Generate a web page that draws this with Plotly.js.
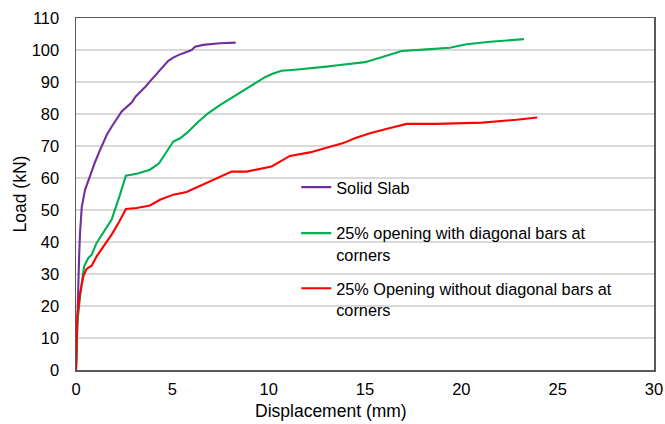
<!DOCTYPE html>
<html>
<head>
<meta charset="utf-8">
<script src="https://cdn.plot.ly/plotly-3.0.1.min.js"></script>
<style>
html,body{margin:0;padding:0;background:#fff;}
#chart{width:665px;height:424px;}
</style>
</head>
<body>
<div id="chart"></div>
<script>
const seriesNames = [
  "Solid Slab",
  "25% opening with diagonal bars at<br>corners",
  "25% Opening without diagonal bars at<br>corners"
];
const seriesColors = ["#7030a0", "#00b050", "#ff0000"];

const solidDisp = [0, 0.03, 0.05, 0.1, 0.16, 0.21, 0.3, 0.47, 0.73, 0.99, 1.25, 1.6, 1.85, 2.1, 2.37, 2.65, 2.89, 3.1, 3.32, 3.6, 3.84, 4.1, 4.36, 4.6, 4.79, 5.05, 5.31, 5.7, 6.0, 6.18, 6.6, 7.47, 8.29];
const solidLoad = [0, 8, 15, 25, 35, 43, 51, 56.3, 61, 65, 68.8, 73.5, 76, 78.3, 80.8, 82.3, 83.6, 85.5, 86.7, 88.5, 90.2, 92, 93.8, 95.5, 96.6, 97.6, 98.4, 99.3, 100, 101, 101.6, 102.1, 102.3];

const diagDisp = [0, 0.04, 0.07, 0.21, 0.3, 0.42, 0.64, 0.81, 1.07, 1.42, 1.85, 2.25, 2.59, 3.15, 3.84, 4.31, 4.7, 5.05, 5.4, 5.74, 6.35, 6.87, 7.47, 8.16, 8.86, 9.3, 9.81, 10.2, 10.67, 11.5, 12.31, 13.0, 13.7, 15.0, 15.86, 16.9, 18.2, 19.4, 20.27, 21.5, 23.25];
const diagLoad = [0, 8, 14.7, 23, 27.2, 32.4, 35, 36, 39.7, 42.8, 47, 54.2, 60.7, 61.3, 62.6, 64.6, 68, 71.4, 72.4, 74, 77.6, 80.3, 82.8, 85.4, 88, 89.7, 91.5, 92.6, 93.5, 93.9, 94.3, 94.8, 95.3, 96.2, 97.7, 99.7, 100.2, 100.7, 101.8, 102.6, 103.4];

const noDiagDisp = [0, 0.03, 0.07, 0.21, 0.38, 0.55, 0.81, 1.07, 1.42, 1.85, 2.25, 2.59, 3.15, 3.84, 4.36, 5.05, 5.74, 6.26, 6.78, 7.47, 8.08, 8.86, 9.55, 10.15, 10.59, 11.1, 12.14, 13.0, 13.87, 14.5, 15.26, 16.3, 17.16, 18.7, 21.1, 22.87, 23.94];
const noDiagLoad = [0, 10.5, 16.8, 24, 29.3, 31.6, 32.6, 35.5, 38.6, 42.3, 46.4, 50.3, 50.6, 51.4, 53.2, 54.8, 55.6, 57, 58.4, 60.5, 62, 62, 62.8, 63.6, 65.1, 66.9, 68, 69.5, 70.9, 72.5, 74, 75.6, 76.9, 76.9, 77.3, 78.2, 78.9];

const xTickVals = [0, 5, 10, 15, 20, 25, 30];
const yTickVals = [0, 10, 20, 30, 40, 50, 60, 70, 80, 90, 100, 110];
const xTitle = "Displacement (mm)";
const yTitle = "Load (kN)";

const xs = [solidDisp, diagDisp, noDiagDisp];
const ys = [solidLoad, diagLoad, noDiagLoad];
const legendIds = ["legend", "legend2", "legend3"];

const traces = seriesNames.map((n, i) => ({
  x: xs[i], y: ys[i], name: n, type: "scatter", mode: "lines",
  line: {color: seriesColors[i], width: 2.1},
  legend: legendIds[i]
}));

const fam = "Liberation Sans, Arial, sans-serif";
const tickFont = {family: fam, size: 16.5, color: "#000"};
const titleFont = {family: fam, size: 17.5, color: "#000"};
const legFont = {family: fam, size: 16.3, color: "#000"};

function leg(y) {
  return {
    x: 0.381, y: y, xanchor: "left", yanchor: "top",
    bgcolor: "rgba(0,0,0,0)", borderwidth: 0,
    font: legFont, valign: "top", itemwidth: 30
  };
}

const layout = {
  width: 665, height: 424,
  margin: {l: 76, r: 11, t: 18, b: 54},
  paper_bgcolor: "#fff", plot_bgcolor: "#fff",
  font: tickFont,
  showlegend: true,
  legend: leg(0.568),
  legend2: leg(0.4375),
  legend3: leg(0.281),
  xaxis: {
    range: [0, 30], tickvals: xTickVals, ticktext: xTickVals.map(String),
    showgrid: false, zeroline: false,
    showline: true, linecolor: "#595959", linewidth: 1.5, mirror: true,
    ticks: "", ticklabelstandoff: 4, tickfont: tickFont
  },
  yaxis: {
    range: [0, 110], tickvals: yTickVals, ticktext: yTickVals.map(String),
    showgrid: true, gridcolor: "#d9d9d9", gridwidth: 1.3, zeroline: false,
    showline: true, linecolor: "#595959", linewidth: 1.5, mirror: true,
    ticks: "", ticklabelstandoff: 12, tickfont: tickFont,
    title: {text: yTitle, font: titleFont, standoff: 0}
  },
  annotations: [{
    text: xTitle, xref: "paper", yref: "paper",
    x: 0.441, y: -0.1165, xanchor: "center", yanchor: "middle",
    showarrow: false, font: titleFont
  }]
};

Plotly.newPlot("chart", traces, layout, {displayModeBar: false, staticPlot: true});
</script>
</body>
</html>
